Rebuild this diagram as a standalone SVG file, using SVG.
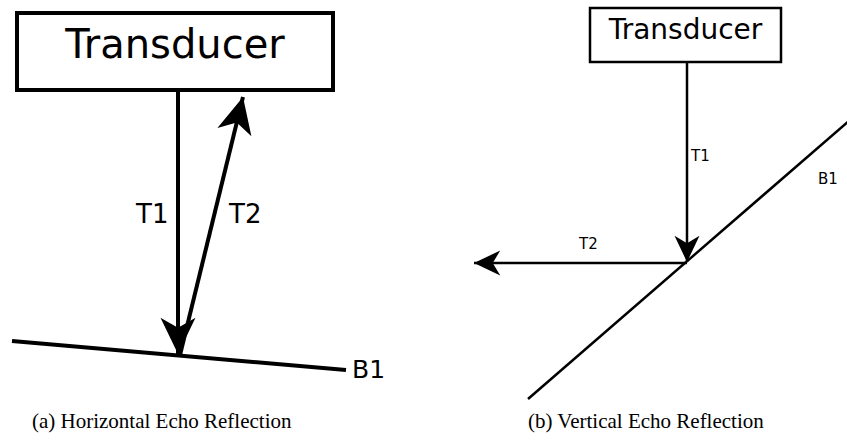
<svg xmlns="http://www.w3.org/2000/svg" width="847" height="445" viewBox="0 0 847 445">
  <style>
    .box { fill: #fff; stroke: #000; }
    .lbl { font-family: "DejaVu Sans", sans-serif; fill: #000; }
    .cap { font-family: "Liberation Serif", serif; font-size: 21px; fill: #000; }
    .ln { stroke: #000; fill: none; stroke-linecap: butt; }
  </style>
  <defs>
    <marker id="headL" markerUnits="userSpaceOnUse" markerWidth="40" markerHeight="40" viewBox="-30 -16 32 32" refX="0" refY="0" orient="auto">
      <path d="M0,0 L-29,-14 L-21,0 L-29,14 Z" fill="#000"/>
    </marker>
    <marker id="headS" markerUnits="userSpaceOnUse" markerWidth="30" markerHeight="30" viewBox="-22 -12 24 24" refX="0" refY="0" orient="auto">
      <path d="M0,0 L-21,-10 L-15,0 L-21,10 Z" fill="#000"/>
    </marker>
  </defs>
  <rect width="847" height="445" fill="#fff"/>

  <!-- (a) horizontal echo -->
  <g id="transducer-a">
    <rect class="box" x="17" y="13" width="316" height="77" stroke-width="4"/>
    <text class="lbl" x="175" y="58" font-size="40" text-anchor="middle">Transducer</text>
  </g>
  <g id="boundary-a">
    <line class="ln" x1="12" y1="341" x2="346" y2="370" stroke-width="4"/>
    <text class="lbl" x="352" y="378" font-size="25">B1</text>
  </g>
  <g id="connectors-a">
    <line class="ln" x1="178" y1="91" x2="178" y2="354" stroke-width="4" marker-end="url(#headL)"/>
    <line class="ln" x1="180" y1="355" x2="243" y2="97" stroke-width="4" marker-end="url(#headL)"/>
    <text class="lbl" x="136" y="223" font-size="26">T1</text>
    <text class="lbl" x="229" y="223" font-size="26">T2</text>
  </g>
  <text class="cap" x="32" y="428">(a)  Horizontal Echo Reflection</text>

  <!-- (b) vertical echo -->
  <g id="transducer-b">
    <rect class="box" x="590" y="8" width="191" height="54" stroke-width="2.5"/>
    <text class="lbl" x="685.5" y="39" font-size="28" text-anchor="middle">Transducer</text>
  </g>
  <g id="boundary-b">
    <line class="ln" x1="528" y1="399" x2="850" y2="120" stroke-width="2.5"/>
    <text class="lbl" x="818" y="184" font-size="15">B1</text>
  </g>
  <g id="connectors-b">
    <line class="ln" x1="687" y1="62" x2="687" y2="262" stroke-width="2.5" marker-end="url(#headS)"/>
    <line class="ln" x1="687" y1="263" x2="474" y2="263" stroke-width="2.5" marker-end="url(#headS)"/>
    <text class="lbl" x="691" y="161" font-size="15">T1</text>
    <text class="lbl" x="579" y="249" font-size="15">T2</text>
  </g>
  <text class="cap" x="528" y="428">(b)  Vertical Echo Reflection</text>
</svg>
